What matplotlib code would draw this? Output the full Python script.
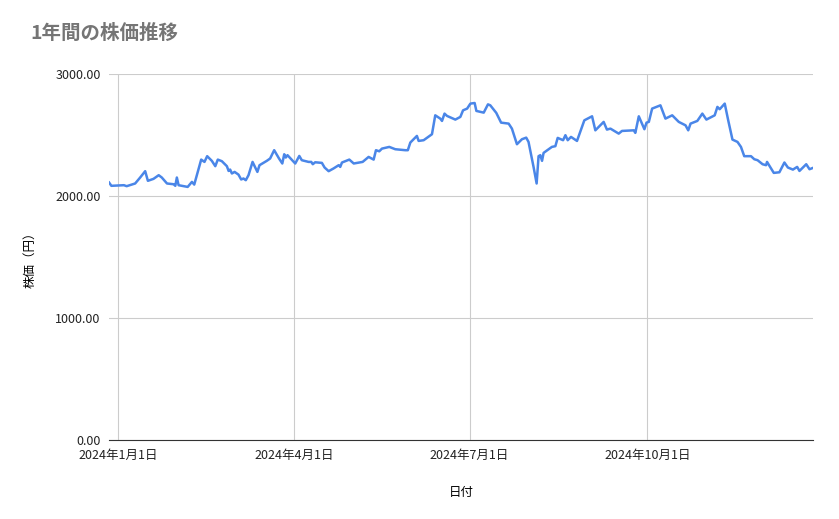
import numpy as np
import pandas as pd
import matplotlib
matplotlib.use("Agg")
import matplotlib.pyplot as plt

plt.rcParams['font.family'] = ['Noto Sans CJK JP', 'DejaVu Sans']

# 2024年1月1日からの日数と株価
days = [-4.7, -3.5, 3, 4.4, 8.8, 11.4, 14, 15.4, 18.3, 21, 22.6, 25.3, 28.7, 29.6, 30.4, 31.3,
        36, 38.2, 39.4, 43, 44.7, 46.1, 48.5, 50.3, 51.6, 53.7, 56.3, 57.2, 58, 58.9, 60.3, 62.3,
        63.7, 64.9, 66.1, 67.5, 69.6, 72.1, 73.2, 77, 78.7, 80.8, 83.3, 85, 86, 86.8, 87.7, 91.7,
        93.8, 95.1, 98.6, 100, 100.8, 102, 105.5, 106.9, 109, 111.5, 114.2, 115, 115.9, 119.7, 122,
        126.6, 129.7, 132.3, 133.5, 135.2, 136.6, 140.4, 143.5, 148.7, 150, 151.3, 154.7, 155.6,
        158.2, 162.5, 164.2, 166.8, 167.7, 169, 170.3, 174.6, 177.2,
        178.6, 180.7, 182.4, 184.6, 185.5, 189.3, 191.5, 192.7, 195.8, 198.3, 202.2, 203.9, 206.5,
        209.1, 211.3, 212.5, 215.1, 216.7, 217.7, 218.6, 219.5, 220.3, 224.6, 226.4, 227.6, 230.4,
        231.6, 232.8, 234.5, 237.6, 241.4, 245.4, 247.1, 251.4, 253.1, 254.9, 259.2, 260.9, 267,
        267.8, 269.6, 272.5, 273.6, 274.8, 276.5, 280.8, 283.4, 286.9, 290.3, 293.8, 295.2, 296.4,
        299.9, 302.5, 304.6, 308.9, 310.3, 311.5, 314.1, 315.9, 318.1, 320.7, 322.5, 324.2, 327.7,
        329.4, 331.1, 333.7, 335.5, 336, 339.5, 342.4, 345, 346.8, 349.4, 351.6, 352.8, 356.3,
        358, 359.8]
prices = [2112, 2085, 2090, 2082, 2104, 2153, 2205, 2126, 2142, 2172, 2153, 2104, 2098, 2085, 2153, 2090,
          2076, 2117, 2095, 2300, 2281, 2328, 2290, 2246, 2300, 2287, 2246, 2207, 2218, 2186, 2199, 2177,
          2137, 2145, 2131, 2172, 2281, 2199, 2254, 2290, 2309, 2377, 2309, 2268, 2344, 2317, 2336, 2268,
          2330, 2295, 2281, 2281, 2262, 2278, 2273, 2235, 2205, 2227, 2254, 2240, 2276, 2300, 2268,
          2281, 2322, 2300, 2377, 2368, 2390, 2404, 2385, 2377, 2377, 2440, 2494, 2453,
          2459, 2508, 2663, 2636, 2617, 2677, 2658, 2628, 2650,
          2704, 2718, 2759, 2764, 2699, 2685, 2753, 2745, 2683, 2603, 2595, 2554, 2426,
          2467, 2480, 2445, 2240, 2104, 2328, 2336, 2290, 2355, 2404, 2410, 2478, 2459,
          2500, 2459, 2486, 2453, 2622, 2655, 2540, 2609, 2546, 2554, 2513, 2535, 2540,
          2519, 2655, 2549, 2603, 2609, 2718, 2745, 2636, 2663, 2609, 2581, 2540, 2595,
          2617, 2677, 2628, 2663, 2732, 2713, 2759, 2622, 2464, 2445, 2404, 2328, 2328,
          2303, 2295, 2262, 2254, 2281, 2191, 2196, 2276, 2235, 2218, 2240, 2207, 2262,
          2221, 2232]

tick_dates = ['2024-01-01', '2024-04-01', '2024-07-01', '2024-10-01']
tick_labels = ['2024年1月1日', '2024年4月1日', '2024年7月1日', '2024年10月1日']

dates = pd.Timestamp('2024-01-01') + pd.to_timedelta(days, unit='D')

fig = plt.figure(figsize=(8.39, 5.19), dpi=100)
ax = fig.add_axes([0.13, 0.152, 0.839, 0.705])
ax.plot(dates, prices, color='#4a86e8', lw=1.8)

ax.set_xlim(dates[0], dates[-1])
ax.set_ylim(0, 3000)
ax.set_yticks([0, 1000, 2000, 3000])
ax.set_yticklabels(['%.2f' % v for v in [0, 1000, 2000, 3000]])
ax.set_xticks(pd.to_datetime(tick_dates))
ax.set_xticklabels(tick_labels)
ax.grid(True, color='#cccccc', lw=0.8)
ax.set_axisbelow(True)
for s in ['top', 'right', 'left']:
    ax.spines[s].set_visible(False)
ax.spines['bottom'].set_color('#333333')
ax.tick_params(length=0, labelsize=9, colors='#222222', pad=6)

ax.set_xlabel('日付', fontsize=9, labelpad=18)
ax.set_ylabel('株価（円）', fontsize=9, labelpad=14)
fig.text(0.036, 0.925, '1年間の株価推移', fontsize=14, color='#757575', weight='bold')

fig.savefig('out.png', dpi=100)
